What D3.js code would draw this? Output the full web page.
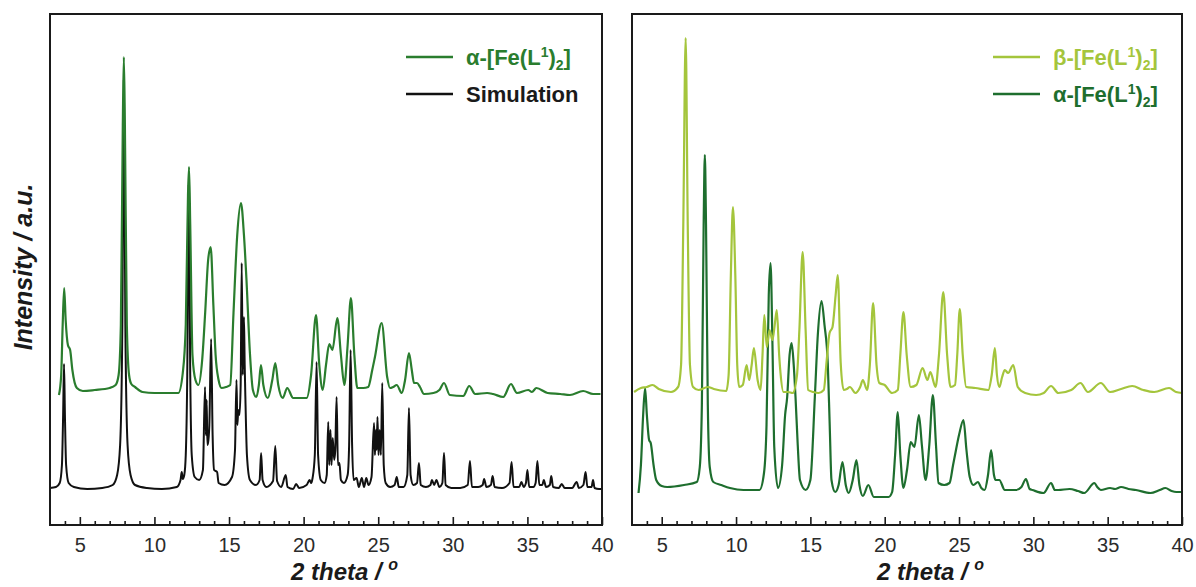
<!DOCTYPE html>
<html><head><meta charset="utf-8">
<script src="https://cdn.jsdelivr.net/npm/d3@7"></script>
<style>html,body{margin:0;padding:0;background:#fff}</style>
</head><body>
<svg id="c" width="1196" height="587"></svg>
<script>
// ---------- DATA (2θ in degrees, intensity in arbitrary units) ----------
const xTicksMajor = [5,10,15,20,25,30,35,40];
const xTicksMinor = [4,6,7,8,9,11,12,13,14,16,17,18,19,21,22,23,24,26,27,28,29,31,32,33,34,36,37,38,39];
const xTitle = "2 theta / ";
const xTitleSup = "o";
const yTitle = "Intensity / a.u.";

const alphaLeft = [[3.6,130],[3.75,150],[3.85,200],[3.95,237],[4.05,205],[4.2,180],[4.35,175],[4.5,155],[4.8,137],[5.2,134],[6,135],[7,137],[7.4,140],[7.6,150],[7.75,200],[7.88,400],[7.95,468],[8.02,400],[8.15,200],[8.3,150],[8.45,141],[8.7,138],[9.2,133],[10,132],[11,132],[11.6,132],[11.9,152],[12.1,200],[12.25,330],[12.32,358],[12.4,300],[12.55,170],[12.75,145],[12.95,140],[13.2,165],[13.4,212],[13.6,265],[13.77,278],[13.95,220],[14.1,170],[14.3,145],[14.5,137],[14.8,138],[15.08,140],[15.3,212],[15.55,290],[15.8,322],[16.0,290],[16.17,245],[16.4,172],[16.6,135],[16.83,128],[17.0,140],[17.14,160],[17.3,140],[17.6,127],[17.9,145],[18.1,162],[18.3,140],[18.6,127],[18.9,137],[19.3,127],[20.2,127],[20.5,150],[20.83,210],[21.05,160],[21.28,135],[21.5,160],[21.72,181],[21.93,175],[22.26,207],[22.5,170],[22.73,140],[22.95,180],[23.17,227],[23.4,170],[23.6,137],[24.0,137],[24.33,138],[24.6,155],[24.78,168],[25.23,202],[25.6,148],[25.79,137],[26.0,138],[26.24,140],[26.58,132],[26.8,145],[27.06,172],[27.25,155],[27.4,142],[27.6,142],[27.8,138],[28.07,131],[28.7,132],[29.1,135],[29.41,142],[29.8,130],[30.7,129],[31.1,139],[31.5,131],[32.3,132],[32.7,131],[33.38,128],[33.9,141],[34.3,132],[35.06,135],[35.3,133],[35.6,137],[36.35,132],[37.2,131],[37.85,130],[38.74,134],[39.4,131],[39.9,131]];

const simulation = [[3.0,37],[3.4,38],[3.65,42],[3.8,60],[3.88,110],[3.94,161],[4.0,110],[4.08,60],[4.25,42],[4.6,38],[5.5,36],[6.5,37],[7.2,40],[7.5,50],[7.7,80],[7.85,200],[7.95,445],[8.05,200],[8.2,80],[8.4,50],[8.7,40],[9.5,37],[10.5,36],[11.5,38],[11.75,45],[11.83,53],[11.9,46],[12.0,50],[12.1,70],[12.2,150],[12.3,340],[12.4,150],[12.5,70],[12.7,48],[13.0,45],[13.25,55],[13.39,138],[13.45,90],[13.5,125],[13.55,80],[13.62,85],[13.68,100],[13.8,186],[13.9,90],[14.0,55],[14.2,53],[14.3,42],[14.7,40],[15.2,48],[15.4,75],[15.5,145],[15.56,100],[15.62,115],[15.7,110],[15.78,140],[15.85,262],[15.92,150],[16.0,208],[16.05,160],[16.1,125],[16.2,70],[16.4,45],[16.8,40],[17.05,45],[17.15,72],[17.25,45],[17.5,38],[17.95,44],[18.1,79],[18.22,44],[18.5,38],[18.8,50],[18.92,38],[19.3,36],[19.5,41],[19.7,37],[20.2,40],[20.4,45],[20.5,42],[20.6,47],[20.75,70],[20.87,163],[20.97,70],[21.15,45],[21.4,42],[21.55,50],[21.65,103],[21.72,60],[21.8,95],[21.87,60],[21.95,87],[22.05,65],[22.12,75],[22.21,128],[22.3,60],[22.4,62],[22.5,45],[22.7,42],[22.95,50],[23.05,80],[23.15,175],[23.25,80],[23.35,45],[23.55,47],[23.7,38],[23.9,47],[24.05,38],[24.2,47],[24.35,40],[24.55,48],[24.72,102],[24.78,70],[24.85,95],[24.9,75],[24.95,108],[25.02,70],[25.1,95],[25.18,70],[25.27,142],[25.37,60],[25.5,42],[25.8,38],[26.1,40],[26.24,48],[26.38,38],[26.7,38],[26.95,50],[27.06,117],[27.17,50],[27.35,40],[27.6,42],[27.73,62],[27.85,40],[28.2,38],[28.5,40],[28.6,45],[28.75,40],[28.9,45],[29.1,38],[29.3,42],[29.41,72],[29.52,40],[29.9,37],[30.5,37],[31.0,40],[31.15,64],[31.28,38],[31.7,38],[32.0,40],[32.1,46],[32.25,38],[32.55,40],[32.67,49],[32.8,38],[33.3,37],[33.8,42],[33.94,63],[34.07,38],[34.45,38],[34.6,43],[34.75,38],[34.9,42],[35.0,55],[35.12,38],[35.4,38],[35.55,42],[35.67,64],[35.8,40],[36.0,40],[36.1,45],[36.25,38],[36.5,40],[36.6,49],[36.72,38],[37.1,37],[37.3,41],[37.5,37],[38.0,37],[38.3,43],[38.45,37],[38.75,40],[38.9,53],[39.02,38],[39.3,38],[39.4,45],[39.5,37],[39.8,36],[40.0,36]];

const betaRight = [[3.14,133],[3.6,137],[4.0,138],[4.38,140],[4.8,136],[5.62,133],[6.1,138],[6.3,160],[6.45,300],[6.61,487],[6.75,300],[6.9,160],[7.11,138],[7.48,135],[8.1,138],[8.5,136],[9.34,134],[9.5,150],[9.65,250],[9.79,318],[9.95,250],[10.08,160],[10.21,138],[10.45,140],[10.71,160],[10.88,145],[11.05,160],[11.2,177],[11.45,145],[11.65,135],[11.78,170],[11.9,210],[12.07,178],[12.25,195],[12.45,185],[12.6,200],[12.74,215],[12.9,170],[12.99,152],[13.19,133],[13.5,133],[13.81,132],[14.1,150],[14.26,195],[14.48,273],[14.68,195],[14.85,135],[15.2,133],[15.55,132],[15.9,135],[16.1,165],[16.29,192],[16.49,198],[16.7,230],[16.84,250],[17.04,162],[17.24,135],[17.45,136],[17.66,138],[18.03,132],[18.35,138],[18.53,145],[18.82,135],[19.0,160],[19.22,222],[19.45,160],[19.64,142],[20.0,140],[20.5,132],[20.88,135],[21.05,170],[21.26,213],[21.48,170],[21.75,138],[22.13,140],[22.55,157],[22.87,145],[23.07,153],[23.42,138],[23.65,170],[23.94,233],[24.2,170],[24.43,138],[24.73,140],[24.88,170],[25.05,216],[25.25,170],[25.48,138],[26.1,137],[26.97,135],[27.2,150],[27.41,177],[27.55,150],[27.71,138],[27.9,148],[28.08,155],[28.3,152],[28.65,160],[28.95,138],[29.45,132],[30.19,130],[30.7,132],[31.19,139],[31.68,132],[32.55,135],[33.17,142],[33.67,133],[34.54,142],[35.16,133],[35.9,136],[36.65,139],[37.4,135],[38.13,133],[39.13,137],[39.6,133],[40,132]];

const alphaRight = [[3.44,32],[3.6,60],[3.75,110],[3.88,137],[4.0,110],[4.15,85],[4.26,82],[4.45,60],[4.63,45],[5.0,39],[5.37,38],[6.5,40],[7.36,43],[7.56,58],[7.7,120],[7.82,300],[7.9,370],[7.98,300],[8.1,120],[8.23,58],[8.47,43],[9.0,40],[9.59,37],[10.5,35],[11.58,35],[11.88,52],[12.05,100],[12.2,230],[12.32,262],[12.45,180],[12.57,78],[12.82,37],[13.1,60],[13.3,110],[13.44,128],[13.6,170],[13.74,182],[13.88,160],[14.0,128],[14.15,80],[14.3,45],[14.68,35],[15.0,45],[15.3,128],[15.5,190],[15.75,224],[15.95,200],[16.17,162],[16.3,100],[16.42,45],[16.67,33],[16.9,40],[17.16,63],[17.38,40],[17.58,32],[17.85,45],[18.1,65],[18.3,40],[18.53,29],[18.9,40],[19.27,28],[20.26,28],[20.5,33],[20.7,70],[20.88,113],[21.05,70],[21.26,37],[21.5,55],[21.75,83],[22.0,78],[22.3,110],[22.5,80],[22.75,45],[23.0,80],[23.24,130],[23.45,80],[23.62,42],[24.0,40],[24.36,42],[24.6,60],[24.73,70],[25.0,90],[25.3,105],[25.5,75],[25.72,48],[25.97,40],[26.27,43],[26.5,37],[26.72,35],[26.95,50],[27.16,75],[27.35,50],[27.46,45],[27.71,45],[28.08,35],[28.83,35],[29.2,38],[29.5,46],[29.75,36],[29.94,35],[30.69,32],[31.19,42],[31.45,35],[31.68,35],[32.43,36],[33.0,34],[33.42,32],[34.11,42],[34.3,38],[34.54,35],[35.16,37],[35.5,36],[35.9,38],[36.4,36],[36.9,35],[37.88,32],[38.5,35],[38.88,37],[39.3,34],[39.62,33],[40,33]];

const xDomain = [3, 40];
const yDomain = [0, 511];

// ---------- LAYOUT ----------
const svg = d3.select("#c");
const yTop = 14, yBot = 525;
const FONT = "'Liberation Sans', Arial, sans-serif";

const panels = [
  {x0:50, x1:602, series:[
     {data:simulation, color:"#111111", w:2},
     {data:alphaLeft, color:"#2a7d2e", w:2.2}],
   legend:[{label:"α", color:"#2a7d2e", text:"#2a7d2e"},{label:"Simulation", color:"#111111", text:"#1a1a1a"}],
   legX:406, titleX:291},
  {x0:632, x1:1182, series:[
     {data:alphaRight, color:"#1e6e2e", w:2.2},
     {data:betaRight, color:"#a4c53c", w:2.2}],
   legend:[{label:"β", color:"#a4c53c", text:"#a4c53c"},{label:"α", color:"#1e6e2e", text:"#1e6e2e"}],
   legX:993, titleX:877}
];

const y = d3.scaleLinear().domain(yDomain).range([yBot, yTop]);

panels.forEach((p, i) => {
  const x = d3.scaleLinear().domain(xDomain).range([p.x0, p.x1]);
  const g = svg.append("g");
  const clipId = "clip" + i;
  svg.append("clipPath").attr("id", clipId).append("rect")
    .attr("x", p.x0).attr("y", yTop).attr("width", p.x1 - p.x0).attr("height", yBot - yTop);

  const line = d3.line().x(d => x(d[0])).y(d => y(d[1])).curve(d3.curveMonotoneX);
  p.series.forEach(s => {
    g.append("path").attr("d", line(s.data)).attr("fill", "none")
      .attr("stroke", s.color).attr("stroke-width", s.w).attr("stroke-linejoin", "round")
      .attr("clip-path", `url(#${clipId})`);
  });

  const minor = g.append("g").attr("transform", `translate(0,${yBot})`)
    .call(d3.axisBottom(x).tickValues(xTicksMinor).tickSize(-4).tickFormat(""));
  minor.select(".domain").remove();
  minor.selectAll("line").attr("stroke", "#1a1a1a").attr("stroke-width", 1.6);
  const major = g.append("g").attr("transform", `translate(0,${yBot})`)
    .call(d3.axisBottom(x).tickValues(xTicksMajor).tickSize(-8).tickPadding(13).tickFormat(d3.format("d")));
  major.select(".domain").remove();
  major.selectAll("line").attr("stroke", "#1a1a1a").attr("stroke-width", 1.6);
  major.selectAll("text").attr("font-family", FONT).attr("font-size", 20).attr("fill", "#2b2b2b");

  g.append("rect").attr("x", p.x0).attr("y", yTop).attr("width", p.x1 - p.x0).attr("height", yBot - yTop)
    .attr("fill", "none").attr("stroke", "#1a1a1a").attr("stroke-width", 2);

  const t = g.append("text").attr("x", p.titleX).attr("y", 580)
    .attr("font-family", FONT).attr("font-size", 24).attr("font-weight", "bold").attr("font-style", "italic")
    .attr("fill", "#1a1a1a");
  t.append("tspan").text(xTitle);
  t.append("tspan").attr("dy", -10).attr("font-size", 16).text(xTitleSup);

  p.legend.forEach((L, j) => {
    const ly = j === 0 ? 57 : 94;
    g.append("line").attr("x1", p.legX).attr("x2", p.legX + 47).attr("y1", ly).attr("y2", ly)
      .attr("stroke", L.color).attr("stroke-width", 2.4);
    const tx = g.append("text").attr("x", p.legX + 60).attr("y", ly + 8)
      .attr("font-family", FONT).attr("font-size", 22).attr("font-weight", "bold").attr("fill", L.text);
    if (L.label === "Simulation") {
      tx.text("Simulation");
    } else {
      tx.append("tspan").text(L.label + "-[Fe(L");
      tx.append("tspan").attr("dy", -8).attr("font-size", 14).text("1");
      tx.append("tspan").attr("dy", 8).text(")");
      tx.append("tspan").attr("dy", 5).attr("font-size", 14).text("2");
      tx.append("tspan").attr("dy", -5).text("]");
    }
  });
});

svg.append("text").attr("transform", "translate(32,267) rotate(-90)")
  .attr("text-anchor", "middle").attr("font-family", FONT).attr("font-size", 25)
  .attr("font-weight", "bold").attr("font-style", "italic").attr("fill", "#1a1a1a")
  .text(yTitle);
</script>
</body></html>
